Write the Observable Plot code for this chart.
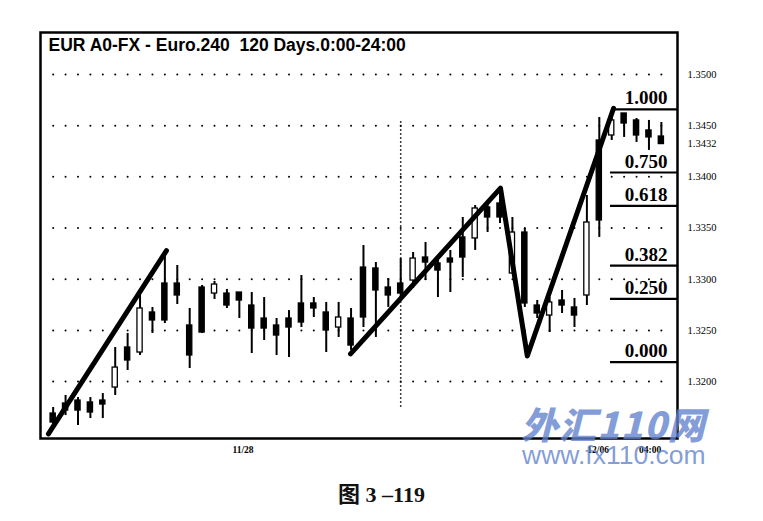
<!DOCTYPE html>
<html>
<head>
<meta charset="utf-8">
<script src="https://cdn.jsdelivr.net/npm/d3@7"></script>
<script src="https://cdn.jsdelivr.net/npm/@observablehq/plot@0.6"></script>
<style>
  html, body { margin: 0; padding: 0; background: #fff; }
  #wrap { position: relative; width: 763px; height: 521px; overflow: hidden; }
  #caption { position: absolute; left: 0; top: 470px; width: 763px; height: 51px; line-height: 50px;
    text-align: center; font-family: "Liberation Serif", "Noto Sans CJK SC", serif; font-weight: bold; font-size: 22px; color: #111; }
  .wm { position: absolute; color: rgba(95,130,205,0.78); pointer-events: none; white-space: nowrap; line-height: 1; }
  #wm1 { left: 521px; top: 405px; font-family: "Noto Sans CJK SC", sans-serif; font-weight: 900; font-style: italic; font-size: 37px; letter-spacing: 1px; }
  #wm2 { left: 522px; top: 442px; font-family: "Liberation Sans", sans-serif; font-size: 26.5px; }
</style>
</head>
<body>
<div id="wrap">
  <div id="chart"></div>
  <div id="caption">图 3 –119</div>
  <div class="wm" id="wm1">外汇110网</div>
  <div class="wm" id="wm2">www.fx110.com</div>
</div>
<script>
// ---- data (EUR/USD 4-hour candles) ----
const opens  = [1.31688,1.31786,1.31815,1.31796,1.31815,1.31942,1.32333,1.32284,1.32675,1.32958,
                1.32958,1.32548,1.32919,1.32860,1.32860,1.32870,1.32743,1.32616,1.32548,1.32616,
                1.32763,1.32763,1.32675,1.32528,1.32616,1.33114,1.33105,1.32919,1.32958,1.32987,
                1.33212,1.33154,1.33202,1.33408,1.33398,1.33701,1.33740,1.33056,1.33456,1.32743,
                1.32645,1.32792,1.32724,1.32841,1.34355,1.34404,1.34619,1.34551,1.34453,1.34394];
const highs  = [1.31747,1.31864,1.31844,1.31844,1.31883,1.32333,1.32470,1.32841,1.32724,1.33251,
                1.33134,1.32714,1.32939,1.32978,1.32900,1.32870,1.32870,1.32821,1.32616,1.32694,
                1.33036,1.32821,1.32773,1.32773,1.32714,1.33329,1.33163,1.33007,1.33202,1.33261,
                1.33359,1.33183,1.33281,1.33603,1.33720,1.33769,1.33886,1.33603,1.33495,1.32792,
                1.32821,1.32890,1.32812,1.33818,1.34580,1.34590,1.34619,1.34570,1.34551,1.34531];
const lows   = [1.31571,1.31668,1.31571,1.31639,1.31639,1.31864,1.32108,1.32255,1.32470,1.32567,
                1.32753,1.32128,1.32470,1.32802,1.32714,1.32616,1.32274,1.32401,1.32255,1.32235,
                1.32528,1.32626,1.32284,1.32431,1.32304,1.32528,1.32431,1.32724,1.32821,1.32909,
                1.32987,1.32821,1.32870,1.33017,1.33281,1.33456,1.33544,1.33056,1.32724,1.32616,
                1.32479,1.32665,1.32528,1.32743,1.33408,1.34355,1.34385,1.34336,1.34258,1.34320];
const closes = [1.31600,1.31717,1.31717,1.31698,1.31776,1.32137,1.32206,1.32714,1.32597,1.32597,
                1.32841,1.32255,1.32479,1.32948,1.32743,1.32792,1.32518,1.32518,1.32450,1.32528,
                1.32577,1.32714,1.32499,1.32626,1.32352,1.32626,1.32890,1.32841,1.32860,1.33202,
                1.33163,1.33085,1.33163,1.33212,1.33691,1.33603,1.33603,1.33456,1.32763,1.32665,
                1.32773,1.32743,1.32645,1.33554,1.33574,1.34551,1.34521,1.34404,1.34385,1.34320];

// trend lines (candle index, price)
const trendAX = [-0.38, 9.13];
const trendAY = [1.3149, 1.3328];
const trendBX = [23.96, 36.04, 38.2, 45.15];
const trendBY = [1.3227, 1.3389, 1.3225, 1.3467];

// Fibonacci retracement of the last swing
const swingLow = 1.3219, swingHigh = 1.3466;
const fibRatios = [1.000, 0.750, 0.618, 0.382, 0.250, 0.000];
const fibLabels = ["1.000", "0.750", "0.618", "0.382", "0.250", "0.000"];
const fibStart  = [45.15, 44.9, 44.9, 44.9, 44.9, 44.9];

// axes
const yTickVals = [1.3500, 1.3450, 1.3432, 1.3400, 1.3350, 1.3300, 1.3250, 1.3200];
const yGridVals = [1.3500, 1.3450, 1.3400, 1.3350, 1.3300, 1.3250, 1.3200];
const xTickPos = [15.3, 43.9, 48.1];
const xTickLabels = ["11/28", "12/06", "04:00"];
const dayBreak = [28];
const title = "EUR A0-FX - Euro.240\u00a0\u00a0120 Days.0:00-24:00";

// ---- build tables ----
const candles = opens.map((o, i) => ({i, open: o, high: highs[i], low: lows[i], close: closes[i]}));
const trendA = trendAX.map((x, k) => ({x, y: trendAY[k]}));
const trendB = trendBX.map((x, k) => ({x, y: trendBY[k]}));
const fibRows = fibRatios.map((r, k) => ({price: swingLow + r * (swingHigh - swingLow), label: fibLabels[k], x1: fibStart[k]}));
const gridPts = yGridVals.flatMap(v => candles.map(c => ({i: c.i, v})));
const xMax = 50.3;

const chart = Plot.plot({
  width: 763,
  height: 470,
  marginTop: 32,
  marginBottom: 32,
  marginLeft: 40,
  marginRight: 86,
  x: {domain: [-1.02, xMax]},
  y: {domain: [1.31444, 1.35410]},
  style: {background: "white", color: "black", fontFamily: "Liberation Serif, serif"},
  marks: [
    Plot.dot(gridPts, {x: "i", y: "v", r: 1, fill: "black", stroke: null}),
    Plot.ruleX(dayBreak, {x: d => d, y1: 1.3175, y2: 1.3455, stroke: "black", strokeWidth: 1.5, strokeDasharray: "1.5,2.5"}),
    Plot.ruleX(candles, {x: "i", y1: "low", y2: "high", stroke: "black", strokeWidth: 2}),
    Plot.rect(candles, {x1: d => d.i - 0.21, x2: d => d.i + 0.21, y1: "open", y2: "close",
      fill: d => d.close > d.open ? "white" : "black", stroke: "black", strokeWidth: 1.3}),
    Plot.line(trendA, {x: "x", y: "y", stroke: "black", strokeWidth: 5, strokeLinecap: "round"}),
    Plot.line(trendB, {x: "x", y: "y", stroke: "black", strokeWidth: 5, strokeLinejoin: "round", strokeLinecap: "round"}),
    Plot.ruleY(fibRows, {y: "price", x1: "x1", x2: xMax, stroke: "black", strokeWidth: 2.2}),
    Plot.text(fibRows, {x: 49.5, y: "price", text: "label", textAnchor: "end", lineAnchor: "middle", dy: -11,
      fontSize: 19, fontWeight: "bold", fontFamily: "Liberation Serif, serif", fill: "black"}),
    Plot.text([title], {frameAnchor: "top-left", dx: 8, dy: 13, lineAnchor: "middle", text: d => d,
      fontSize: 17.5, fontWeight: "bold", fontFamily: "Liberation Sans, sans-serif", fill: "black"}),
    Plot.axisY({anchor: "right", ticks: yTickVals, tickFormat: d => d.toFixed(4), tickSize: 0, tickPadding: 10,
      fontSize: 10.5, label: null}),
    Plot.axisX({ticks: xTickPos, tickFormat: d => xTickLabels[xTickPos.indexOf(d)], tickSize: 0, tickPadding: 8,
      fontSize: 9.5, fontWeight: "bold", label: null}),
    Plot.frame({stroke: "black", strokeWidth: 2.5})
  ]
});
document.getElementById("chart").append(chart);
</script>
</body>
</html>
